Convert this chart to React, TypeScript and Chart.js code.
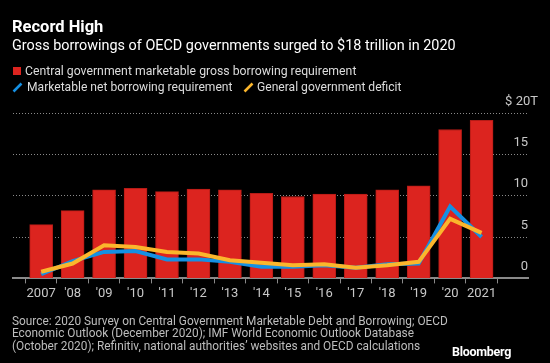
import React, { useEffect, useRef } from "react";
import { Chart, registerables } from "chart.js";
Chart.register(...registerables);

const years = ["2007", "'08", "'09", "'10", "'11", "'12", "'13", "'14", "'15", "'16", "'17", "'18", "'19", "'20", "2021"];
const grossBorrowing = [6.5, 8.2, 10.7, 10.9, 10.5, 10.8, 10.7, 10.3, 9.9, 10.2, 10.2, 10.7, 11.2, 18.0, 19.1];
const netBorrowing = [0.5, 2.1, 3.2, 3.3, 2.3, 2.3, 2.0, 1.4, 1.4, 1.6, 1.3, 1.7, 1.8, 8.7, 5.0];
const govDeficit = [0.8, 1.8, 4.0, 3.8, 3.2, 3.0, 2.2, 1.9, 1.6, 1.7, 1.3, 1.6, 2.0, 7.2, 5.5];
const yTicks = [0, 5, 10, 15, 20];
const yTickLabels = ["0", "5", "10", "15", "$ 20T"];

const seriesNames = [
  "Central government marketable gross borrowing requirement",
  "Marketable net borrowing requirement",
  "General government deficit",
];
const RED = "#dc241f";
const BLUE = "#1590e3";
const YELLOW = "#fbb62c";
const FONT = "Roboto, 'Liberation Sans', sans-serif";

const yLabelPlugin = {
  id: "yLabels",
  afterDraw(chart: any) {
    const { ctx, scales } = chart;
    const y = scales.y;
    const right = chart.chartArea.right;
    ctx.save();
    ctx.font = `13px ${FONT}`;
    ctx.fillStyle = "#c8c8c8";
    ctx.textBaseline = "middle";
    ctx.textAlign = "right";
    yTicks.forEach((v, i) => {
      const py = y.getPixelForValue(v) - 11.5;
      const isTop = i === yTicks.length - 1;
      ctx.fillText(yTickLabels[i], right + (isTop ? 10 : 0), py);
    });
    ctx.restore();
  },
};

export default function App() {
  const ref = useRef<HTMLCanvasElement>(null);
  useEffect(() => {
    document.body.style.margin = "0";
    document.body.style.background = "#000";
    const toXY = (arr: number[]) => arr.map((v, i) => ({ x: i, y: v }));
    const chart = new Chart(ref.current!, {
      type: "bar",
      data: {
        datasets: [
          {
            type: "line",
            label: seriesNames[2],
            data: toXY(govDeficit),
            borderColor: YELLOW,
            borderWidth: 4,
            pointRadius: 0,
            tension: 0,
            order: 0,
          } as any,
          {
            type: "line",
            label: seriesNames[1],
            data: toXY(netBorrowing),
            borderColor: BLUE,
            borderWidth: 4,
            pointRadius: 0,
            tension: 0,
            order: 1,
          } as any,
          {
            type: "bar",
            label: seriesNames[0],
            data: toXY(grossBorrowing),
            backgroundColor: RED,
            borderColor: "#b51b16",
            borderWidth: 1,
            barThickness: 23,
            order: 2,
          } as any,
        ],
      },
      options: {
        animation: false,
        responsive: false,
        maintainAspectRatio: false,
        layout: { padding: { left: 13, right: 22, top: 113, bottom: 58 } },
        plugins: { legend: { display: false }, tooltip: { enabled: false } },
        scales: {
          x: {
            type: "linear",
            min: -0.35,
            max: 14.93,
            afterBuildTicks: (s: any) => {
              s.ticks = years.map((_, i) => ({ value: i }));
            },
            ticks: {
              callback: (v: any) => years[v as number],
              color: "#c8c8c8",
              font: { family: FONT, size: 13 },
              padding: 3,
              maxRotation: 0,
              autoSkip: false,
            },
            grid: { drawOnChartArea: false, drawTicks: true, tickLength: 5, color: "#8a8a8a" },
            border: { display: true, color: "#8a8a8a", width: 2 },
          },
          y: {
            type: "linear",
            min: 0,
            max: 20,
            position: "right",
            afterBuildTicks: (s: any) => {
              s.ticks = yTicks.map((v) => ({ value: v }));
            },
            ticks: { display: false },
            grid: { color: "#8a8a8a", drawTicks: false, lineWidth: 1 },
            border: { display: false, dash: [1, 2] },
          },
        },
      } as any,
      plugins: [yLabelPlugin],
    });
    return () => chart.destroy();
  }, []);

  const text = (style: React.CSSProperties, content: React.ReactNode) => (
    <div style={{ position: "absolute", whiteSpace: "nowrap", fontFamily: FONT, ...style }}>{content}</div>
  );

  return (
    <div style={{ position: "relative", width: 550, height: 363, background: "#000", overflow: "hidden" }}>
      <canvas ref={ref} width={550} height={363} style={{ position: "absolute", left: 0, top: 0, width: 550, height: 363 }} />
      {text({ left: 12, top: 18, fontSize: 16.5, lineHeight: "18px", fontWeight: 700, color: "#fff" }, "Record High")}
      {text({ left: 12, top: 36.5, fontSize: 14.4, lineHeight: "18px", color: "#fff" }, "Gross borrowings of OECD governments surged to $18 trillion in 2020")}
      <div style={{ position: "absolute", left: 13, top: 67, width: 8, height: 8, background: RED }} />
      {text({ left: 25, top: 63, fontSize: 12.25, lineHeight: "16px", color: "#dcdcdc" }, seriesNames[0])}
      <svg style={{ position: "absolute", left: 12, top: 82 }} width={11} height={11}>
        <line x1={1.5} y1={9.5} x2={9.5} y2={1.5} stroke={BLUE} strokeWidth={2.5} />
      </svg>
      {text({ left: 27, top: 79, fontSize: 12.1, lineHeight: "16px", color: "#dcdcdc" }, seriesNames[1])}
      <svg style={{ position: "absolute", left: 243, top: 82 }} width={11} height={11}>
        <line x1={1.5} y1={9.5} x2={9.5} y2={1.5} stroke={YELLOW} strokeWidth={2.5} />
      </svg>
      {text({ left: 257, top: 79, fontSize: 12.1, lineHeight: "16px", color: "#dcdcdc" }, seriesNames[2])}
      <div style={{ position: "absolute", left: 12, top: 315, fontFamily: FONT, fontSize: 11.85, lineHeight: "12.4px", color: "#bdbdbd", whiteSpace: "nowrap" }}>
        <div>Source: 2020 Survey on Central Government Marketable Debt and Borrowing; OECD</div>
        <div>Economic Outlook (December 2020); IMF World Economic Outlook Database</div>
        <div>(October 2020); Refinitiv, national authorities’ websites and OECD calculations</div>
      </div>
      {text({ right: 39, top: 344, fontSize: 12.5, lineHeight: "15px", fontWeight: 700, color: "#fff", letterSpacing: "-0.3px" }, "Bloomberg")}
    </div>
  );
}
